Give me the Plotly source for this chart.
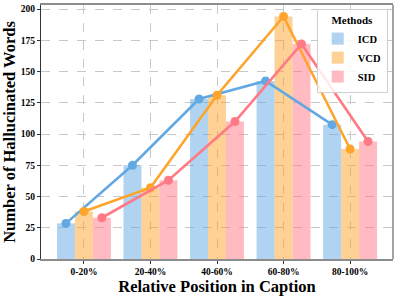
import plotly.graph_objects as go
import numpy as np

categories = ["0-20%", "20-40%", "40-60%", "60-80%", "80-100%"]
methods = ["ICD", "VCD", "SID"]
icd = [28.5, 75, 128, 142.5, 107.5]
vcd = [38, 57, 131, 194, 88]
sid = [33, 63, 110, 172, 94]
yticks = [0, 25, 50, 75, 100, 125, 150, 175, 200]

series = [icd, vcd, sid]
line_colors = ["#62A8E2", "#FFA42B", "#FF7A84"]
width = 0.27
offsets = [-width, 0, width]

font_family = "Liberation Serif, Times New Roman, serif"
pos = np.arange(len(categories))

fig = go.Figure()
for name, vals, lc, off in zip(methods, series, line_colors, offsets):
    fig.add_trace(go.Bar(
        x=pos + off, y=vals, width=width, name="<b>%s</b>" % name,
        marker=dict(color=lc, line=dict(width=0)),
        opacity=0.5,
        showlegend=True,
    ))
for name, vals, lc, off in zip(methods, series, line_colors, offsets):
    fig.add_trace(go.Scatter(
        x=pos + off, y=vals, mode="lines+markers", name=name,
        line=dict(color=lc, width=2.6),
        marker=dict(color=lc, size=9),
        showlegend=False,
    ))

fig.update_layout(
    width=399, height=296,
    margin=dict(l=41, r=6, t=5, b=37),
    paper_bgcolor="white", plot_bgcolor="white",
    barmode="overlay",
    font=dict(family=font_family, color="black"),
    legend=dict(
        x=0.985, y=0.985, xanchor="right", yanchor="top",
        title=dict(text="<b>Methods</b>", side="top center", font=dict(size=11, family=font_family)),
        font=dict(size=10.5, family=font_family),
        bgcolor="rgba(255,255,255,0.85)", bordercolor="#d0d0d0", borderwidth=1,
        tracegroupgap=0, itemwidth=30,
    ),
    xaxis=dict(
        range=[-0.645, 4.645],
        tickmode="array", tickvals=pos,
        ticktext=["<b>%s</b>" % c for c in categories],
        tickfont=dict(size=9.5, family=font_family),
        showgrid=True, gridcolor="#c8c8c8", griddash="dash", gridwidth=1,
        showline=True, linecolor="#8c8c8c", linewidth=1.6, mirror=True,
        ticks="outside", ticklen=3, tickcolor="#333",
        zeroline=False, automargin=False,
        title=dict(text="<b>Relative Position in Caption</b>", font=dict(size=16.5, family=font_family), standoff=4),
    ),
    yaxis=dict(
        range=[0, 203.2],
        tickmode="array", tickvals=yticks,
        ticktext=["<b>%d</b>" % t for t in yticks],
        tickfont=dict(size=9.5, family=font_family),
        showgrid=True, gridcolor="#c8c8c8", griddash="dash", gridwidth=1,
        showline=True, linecolor="#333333", linewidth=1.2, mirror=False,
        ticks="outside", ticklen=3, tickcolor="#333",
        zeroline=False, automargin=False,
        title=dict(text="<b>Number of Hallucinated Words</b>", font=dict(size=16.5, family=font_family), standoff=3),
    ),
    shapes=[dict(type="line", xref="paper", yref="paper", x0=1, x1=1, y0=0, y1=1,
                 line=dict(color="#8c8c8c", width=1.6), layer="above")],
)

fig.write_html("out.html", config={"displayModeBar": False},
               post_script="document.body.style.margin='0';document.body.style.overflow='hidden';")
